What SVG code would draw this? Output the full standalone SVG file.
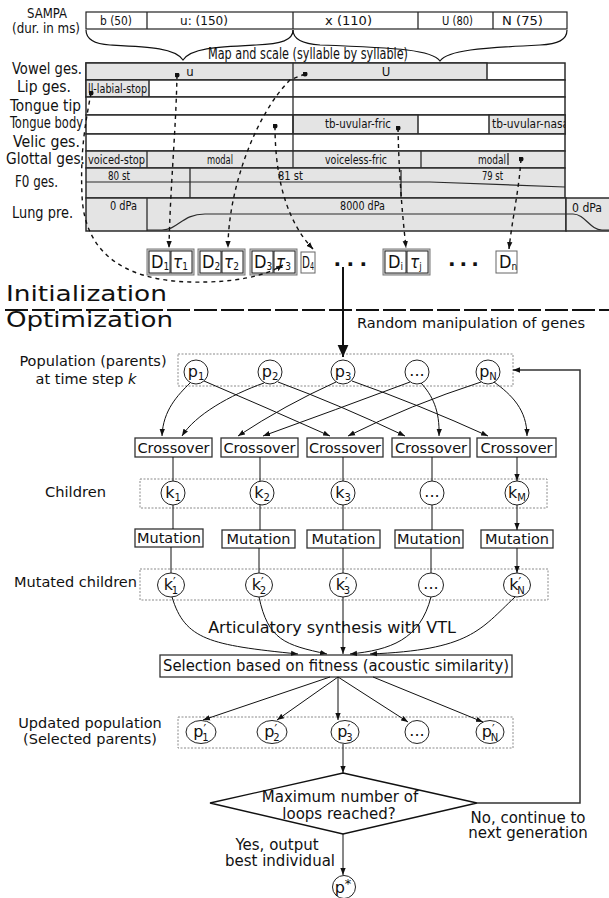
<svg xmlns="http://www.w3.org/2000/svg" width="609" height="898" viewBox="0 0 609 898">
<defs>
<marker id="ah" viewBox="0 0 10 10" refX="10" refY="5" markerWidth="7" markerHeight="7" markerUnits="userSpaceOnUse" orient="auto"><path d="M0,1.2 L10,5 L0,8.8 z" fill="#111"/></marker>
<marker id="big" viewBox="0 0 10 10" refX="10" refY="5" markerWidth="15" markerHeight="12" markerUnits="userSpaceOnUse" orient="auto"><path d="M0,0.5 L10,5 L0,9.5 z" fill="#111"/></marker>
<marker id="dot" viewBox="0 0 6 6" refX="3" refY="3" markerWidth="5" markerHeight="5" markerUnits="userSpaceOnUse"><circle cx="3" cy="3" r="3" fill="#111"/></marker>
<clipPath id="cpn"><rect x="489" y="115" width="76" height="19"/></clipPath>
</defs>
<style>
text{font-family:"DejaVu Sans",Verdana,sans-serif;fill:#111}
.c{font-family:"DejaVu Sans Condensed","DejaVu Sans",sans-serif;font-stretch:condensed}
.s15{font-size:15px}
.s12{font-size:12px}
.s14{font-size:14.5px}
.mid{text-anchor:middle}
.rg{fill:#e4e4e4;stroke:#2b2b2b;stroke-width:1.5}
.rw{fill:#fff;stroke:#2b2b2b;stroke-width:1.5}
.vl{fill:none;stroke:#2b2b2b;stroke-width:1.3}
.grp{fill:none;stroke:#8a8a8a;stroke-width:1;stroke-dasharray:2,1.5}
.box{fill:#fff;stroke:#333;stroke-width:1.3}
.nd{fill:#fff;stroke:#222;stroke-width:1}
.ar{fill:none;stroke:#111;stroke-width:1;marker-end:url(#ah)}
.da{fill:none;stroke:#111;stroke-width:1.4;stroke-dasharray:4,4;marker-start:url(#dot);marker-end:url(#ah)}
.gb{fill:#d4d4d4;stroke:#777;stroke-width:1}
.gi{fill:#fff;stroke:#222;stroke-width:1}
.nl{font-size:16px;text-anchor:middle}
.sb{font-size:10px}
.pr{font-size:12px}
</style>
<rect width="609" height="898" fill="#fff"/>

<!-- SAMPA row -->
<g id="sampa">
<text class="c mid" font-size="14" x="47" y="18" textLength="40" lengthAdjust="spacingAndGlyphs">SAMPA</text>
<text class="c mid" font-size="14" x="46" y="33" textLength="68" lengthAdjust="spacingAndGlyphs">(dur. in ms)</text>
<rect x="86" y="12" width="481" height="17" fill="#fff" stroke="#222" stroke-width="1.2"/>
<path class="vl" d="M147,12V29M293,12V29M418,12V29M493,12V29"/>
<text class="c s12" x="100" y="25" textLength="32" lengthAdjust="spacingAndGlyphs">b (50)</text>
<text class="c s12" x="180" y="25" textLength="48" lengthAdjust="spacingAndGlyphs">u:  (150)</text>
<text class="c s12" x="325" y="25" textLength="47" lengthAdjust="spacingAndGlyphs">x   (110)</text>
<text class="c s12" x="442" y="25" textLength="31" lengthAdjust="spacingAndGlyphs">U (80)</text>
<text class="c s12" x="502" y="25" textLength="41" lengthAdjust="spacingAndGlyphs">N (75)</text>
</g>

<g id="braces">
<path fill="none" stroke="#111" stroke-width="1.2" d="M86,30 C86,40 95,44 110,45 C150,47 175,48 183,60 C191,48 216,47 256,45 C282,44 293,40 293,30"/>
<path fill="none" stroke="#111" stroke-width="1.2" d="M293,30 C293,40 305,44 320,45 C400,48 432,50 440,61 C448,50 480,48 540,45 C558,44 567,40 567,30"/>
<text class="c s15" x="208" y="59" textLength="200" lengthAdjust="spacingAndGlyphs">Map and scale (syllable by syllable)</text>
</g>

<!-- gestural score -->
<g id="row-labels">
<text class="c s15" x="12" y="74" textLength="70" lengthAdjust="spacingAndGlyphs">Vowel ges.</text>
<text class="c s15" x="17" y="92" textLength="54" lengthAdjust="spacingAndGlyphs">Lip ges.</text>
<text class="c s15" x="10" y="111" textLength="71" lengthAdjust="spacingAndGlyphs">Tongue tip</text>
<text class="c s15" x="10" y="128" textLength="73" lengthAdjust="spacingAndGlyphs">Tongue body</text>
<text class="c s15" x="13" y="147" textLength="67" lengthAdjust="spacingAndGlyphs">Velic ges.</text>
<text class="c s15" x="6" y="164" textLength="79" lengthAdjust="spacingAndGlyphs">Glottal ges.</text>
<text class="c s15" x="15" y="187" textLength="43" lengthAdjust="spacingAndGlyphs">F0 ges.</text>
<text class="c s15" x="12" y="218" textLength="61" lengthAdjust="spacingAndGlyphs">Lung pre.</text>
</g>

<g id="vowel-row">
<rect class="rw" x="86" y="63" width="479" height="17"/>
<rect class="rg" x="86" y="63" width="401" height="17"/>
<text class="c mid" font-size="13" x="190" y="76">u</text>
<text class="c mid" font-size="13" x="386" y="76">U</text>
</g>
<g id="lip-row">
<rect class="rw" x="86" y="80" width="479" height="17"/>
<rect class="rg" x="86" y="80" width="63" height="17"/>
<text class="c s12" x="88" y="93" textLength="59" lengthAdjust="spacingAndGlyphs">ll-labial-stop</text>
</g>
<g id="tongue-tip-row">
<rect class="rw" x="86" y="97" width="479" height="18"/>
</g>
<g id="tongue-body-row">
<rect class="rw" x="86" y="115" width="479" height="19"/>
<rect class="rg" x="293" y="115" width="125" height="19"/>
<rect class="rg" x="489" y="115" width="76" height="19"/>
<text class="c s12" x="325" y="128" textLength="66" lengthAdjust="spacingAndGlyphs">tb-uvular-fric</text>
<text class="c s12" x="492" y="128" clip-path="url(#cpn)" textLength="80" lengthAdjust="spacingAndGlyphs">tb-uvular-nasal</text>
</g>
<g id="velic-row">
<rect class="rw" x="86" y="134" width="479" height="17"/>
</g>
<path class="vl" d="M293,63V151"/>
<g id="glottal-row">
<rect class="rg" x="86" y="151" width="479" height="17"/>
<path class="vl" d="M147,151V168M293,151V168M421,151V168M508,153V165"/>
<text class="c s12" x="88" y="164" textLength="57" lengthAdjust="spacingAndGlyphs">voiced-stop</text>
<text class="c s12" x="207" y="164" textLength="26" lengthAdjust="spacingAndGlyphs">modal</text>
<text class="c s12" x="325" y="164" textLength="62" lengthAdjust="spacingAndGlyphs">voiceless-fric</text>
<text class="c s12" x="478" y="164" textLength="28" lengthAdjust="spacingAndGlyphs">modal</text>
</g>
<g id="f0-row">
<rect class="rg" x="86" y="168" width="479" height="30"/>
<path class="vl" d="M190,168V198M401,170V198"/>
<path fill="none" stroke="#2b2b2b" stroke-width="1.2" d="M86,182 L430,182 L565,187"/>
<text class="c s12" x="108" y="180" textLength="22" lengthAdjust="spacingAndGlyphs">80 st</text>
<text class="c s12" x="278" y="180" textLength="25" lengthAdjust="spacingAndGlyphs">81 st</text>
<text class="c s12" x="482" y="180" textLength="21" lengthAdjust="spacingAndGlyphs">79 st</text>
</g>
<g id="lung-row">
<rect class="rg" x="86" y="198" width="480" height="33"/>
<rect class="rg" x="566" y="198" width="50" height="33"/>
<path class="vl" d="M147,198V231"/>
<path fill="none" stroke="#2b2b2b" stroke-width="1.2" d="M147,230 L162,230 C178,230 182,214 205,214 L566,214"/>
<path fill="none" stroke="#2b2b2b" stroke-width="1.2" d="M566,214 L573,214 C585,214 590,230 602,230 L612,230"/>
<text class="c s12" x="110" y="210" textLength="27" lengthAdjust="spacingAndGlyphs">0 dPa</text>
<text class="c s12" x="340" y="210" textLength="45" lengthAdjust="spacingAndGlyphs">8000 dPa</text>
<text class="c s12" x="572" y="212" textLength="30" lengthAdjust="spacingAndGlyphs">0 dPa</text>
</g>

<!-- genes -->
<g id="gene-1">
<rect class="gb" x="147" y="249" width="47" height="26"/>
<rect class="gi" x="149" y="251" width="21" height="22"/><rect class="gi" x="171" y="251" width="21" height="22"/>
<text class="c" font-size="18" x="151" y="268">D<tspan class="sb" dy="2">1</tspan></text>
<text class="c" font-size="17" font-style="italic" x="173" y="268">τ<tspan class="sb" font-style="normal" dy="2">1</tspan></text>
</g>
<g id="gene-2">
<rect class="gb" x="198" y="249" width="47" height="26"/>
<rect class="gi" x="200" y="251" width="21" height="22"/><rect class="gi" x="222" y="251" width="21" height="22"/>
<text class="c" font-size="18" x="202" y="268">D<tspan class="sb" dy="2">2</tspan></text>
<text class="c" font-size="17" font-style="italic" x="224" y="268">τ<tspan class="sb" font-style="normal" dy="2">2</tspan></text>
</g>
<g id="gene-3">
<rect class="gb" x="250" y="249" width="47" height="26"/>
<rect class="gi" x="252" y="251" width="21" height="22"/><rect class="gi" x="274" y="251" width="21" height="22"/>
<text class="c" font-size="18" x="254" y="268">D<tspan class="sb" dy="2">3</tspan></text>
<text class="c" font-size="17" font-style="italic" x="276" y="268">τ<tspan class="sb" font-style="normal" dy="2">3</tspan></text>
</g>
<g id="gene-4">
<rect fill="#fff" stroke="#666" stroke-width="1" x="301" y="252" width="14" height="21"/>
<text class="c" font-size="16" x="302" y="268" textLength="12" lengthAdjust="spacingAndGlyphs">D<tspan class="sb" dy="2">4</tspan></text>
</g>
<g id="dots-1"><text font-size="20" font-weight="bold" x="333.5" y="266" letter-spacing="5.4">...</text></g>
<g id="gene-i">
<rect class="gb" x="383" y="249" width="47" height="26"/>
<rect class="gi" x="385" y="251" width="21" height="22"/><rect class="gi" x="407" y="251" width="21" height="22"/>
<text class="c" font-size="18" x="388" y="268">D<tspan class="sb" dy="2">i</tspan></text>
<text class="c" font-size="17" font-style="italic" x="410" y="268">τ<tspan class="sb" font-style="normal" dy="2">j</tspan></text>
</g>
<g id="dots-2"><text font-size="20" font-weight="bold" x="448" y="266" letter-spacing="4">...</text></g>
<g id="gene-n">
<rect fill="#fff" stroke="#666" stroke-width="1" x="496" y="251" width="21" height="22"/>
<text class="c" font-size="18" x="499" y="268">D<tspan class="sb" dy="2">n</tspan></text>
</g>

<!-- phase titles -->
<g id="phases">
<text font-size="22" x="6" y="301" textLength="161" lengthAdjust="spacingAndGlyphs">Initialization</text>
<path d="M5,310 L609,310" stroke="#111" stroke-width="2" stroke-dasharray="23,4"/>
<text font-size="22" x="6" y="327" textLength="167" lengthAdjust="spacingAndGlyphs">Optimization</text>
<text class="s14" x="357" y="328" textLength="228" lengthAdjust="spacingAndGlyphs">Random manipulation of genes</text>
</g>

<!-- left labels -->
<g id="labels">
<text class="s14 mid" x="93" y="366">Population (parents)</text>
<text class="s14 mid" x="86" y="384">at time step <tspan font-style="italic">k</tspan></text>
<text class="s14" x="45" y="497" textLength="61" lengthAdjust="spacingAndGlyphs">Children</text>
<text class="s14" x="14" y="587" textLength="123" lengthAdjust="spacingAndGlyphs">Mutated children</text>
<text class="s14 mid" x="90" y="728">Updated population</text>
<text class="s14 mid" x="90" y="744">(Selected parents)</text>
<text class="s15 mid" x="277" y="850">Yes, output</text>
<text class="s15 mid" x="280" y="866">best individual</text>
<text class="s15 mid" x="528" y="823">No, continue to</text>
<text class="s15 mid" x="528" y="838">next generation</text>
<text font-size="16" class="mid" x="332" y="633">Articulatory synthesis with VTL</text>
</g>

<!-- population -->
<g id="population">
<rect class="grp" x="178" y="354" width="335" height="32"/>
<g id="p1"><circle class="nd" cx="196" cy="372" r="12"/><text class="nl" x="196" y="377">p<tspan class="sb" dy="3">1</tspan></text></g>
<g id="p2"><circle class="nd" cx="270" cy="372" r="12"/><text class="nl" x="270" y="377">p<tspan class="sb" dy="3">2</tspan></text></g>
<g id="p3"><circle class="nd" cx="343" cy="372" r="12"/><text class="nl" x="343" y="377">p<tspan class="sb" dy="3">3</tspan></text></g>
<g id="p4"><circle class="nd" cx="417" cy="372" r="12"/><text class="nl" x="417" y="376">...</text></g>
<g id="pN"><circle class="nd" cx="488" cy="372" r="12"/><text class="nl" x="488" y="377">p<tspan class="sb" dy="3">N</tspan></text></g>
</g>

<!-- crossover -->
<g id="crossover">
<g id="c1"><rect class="box" x="135" y="438" width="77" height="19"/><text class="s14 mid" x="173.5" y="453">Crossover</text></g>
<g id="c2"><rect class="box" x="221" y="438" width="77" height="19"/><text class="s14 mid" x="259.5" y="453">Crossover</text></g>
<g id="c3"><rect class="box" x="307" y="438" width="76" height="19"/><text class="s14 mid" x="345" y="453">Crossover</text></g>
<g id="c4"><rect class="box" x="392" y="438" width="78" height="19"/><text class="s14 mid" x="431" y="453">Crossover</text></g>
<g id="c5"><rect class="box" x="477" y="438" width="79" height="19"/><text class="s14 mid" x="516.5" y="453">Crossover</text></g>
</g>

<!-- children -->
<g id="children">
<rect class="grp" x="140" y="479" width="407" height="29"/>
<g id="k1"><circle class="nd" cx="173" cy="493" r="12"/><text class="nl" x="173" y="498">k<tspan class="sb" dy="3">1</tspan></text></g>
<g id="k2"><circle class="nd" cx="262" cy="493" r="12"/><text class="nl" x="262" y="498">k<tspan class="sb" dy="3">2</tspan></text></g>
<g id="k3"><circle class="nd" cx="343" cy="493" r="12"/><text class="nl" x="343" y="498">k<tspan class="sb" dy="3">3</tspan></text></g>
<g id="k4"><circle class="nd" cx="432" cy="493" r="12"/><text class="nl" x="432" y="497">...</text></g>
<g id="kM"><circle class="nd" cx="517" cy="493" r="12"/><text class="nl" x="517" y="498">k<tspan class="sb" dy="3">M</tspan></text></g>
</g>

<!-- mutation -->
<g id="mutation">
<g id="m1"><rect class="box" x="135" y="529" width="68" height="18"/><text class="s14 mid" x="169" y="543">Mutation</text></g>
<g id="m2"><rect class="box" x="222" y="530" width="73" height="18"/><text class="s14 mid" x="258.5" y="544">Mutation</text></g>
<g id="m3"><rect class="box" x="307" y="530" width="73" height="18"/><text class="s14 mid" x="343.5" y="544">Mutation</text></g>
<g id="m4"><rect class="box" x="395" y="530" width="68" height="18"/><text class="s14 mid" x="429" y="544">Mutation</text></g>
<g id="m5"><rect class="box" x="481" y="530" width="72" height="18"/><text class="s14 mid" x="517" y="544">Mutation</text></g>
</g>

<!-- mutated children -->
<g id="mutated">
<rect class="grp" x="140" y="569" width="408" height="31"/>
<g id="kp1"><ellipse class="nd" cx="171" cy="585" rx="13.5" ry="12"/><text class="nl" x="171" y="590">k<tspan class="pr" dy="-4">′</tspan><tspan class="sb" dx="-4" dy="8">1</tspan></text></g>
<g id="kp2"><ellipse class="nd" cx="259" cy="585" rx="13.5" ry="12"/><text class="nl" x="259" y="590">k<tspan class="pr" dy="-4">′</tspan><tspan class="sb" dx="-4" dy="8">2</tspan></text></g>
<g id="kp3"><ellipse class="nd" cx="343" cy="585" rx="13.5" ry="12"/><text class="nl" x="343" y="590">k<tspan class="pr" dy="-4">′</tspan><tspan class="sb" dx="-4" dy="8">3</tspan></text></g>
<g id="kp4"><ellipse class="nd" cx="431" cy="585" rx="12.5" ry="12"/><text class="nl" x="431" y="589">...</text></g>
<g id="kpN"><ellipse class="nd" cx="517" cy="585" rx="13.5" ry="12"/><text class="nl" x="517" y="590">k<tspan class="pr" dy="-4">′</tspan><tspan class="sb" dx="-4" dy="8">N</tspan></text></g>
</g>

<!-- selection -->
<g id="selection">
<rect class="box" x="160" y="655" width="352" height="22"/>
<text class="s15 mid" x="336" y="671" textLength="346" lengthAdjust="spacingAndGlyphs">Selection based on fitness (acoustic similarity)</text>
</g>

<!-- updated population -->
<g id="updated">
<rect class="grp" x="178" y="717" width="335" height="31"/>
<g id="pp1"><ellipse class="nd" cx="201" cy="732" rx="15" ry="11.5"/><text class="nl" x="201" y="737">p<tspan class="pr" dy="-4">′</tspan><tspan class="sb" dx="-4" dy="8">1</tspan></text></g>
<g id="pp2"><ellipse class="nd" cx="272" cy="732" rx="15" ry="11.5"/><text class="nl" x="272" y="737">p<tspan class="pr" dy="-4">′</tspan><tspan class="sb" dx="-4" dy="8">2</tspan></text></g>
<g id="pp3"><ellipse class="nd" cx="345" cy="732" rx="14" ry="11.5"/><text class="nl" x="345" y="737">p<tspan class="pr" dy="-4">′</tspan><tspan class="sb" dx="-4" dy="8">3</tspan></text></g>
<g id="pp4"><ellipse class="nd" cx="417" cy="732" rx="12" ry="11.5"/><text class="nl" x="417" y="736">...</text></g>
<g id="ppN"><ellipse class="nd" cx="490" cy="732" rx="14" ry="11.5"/><text class="nl" x="490" y="737">p<tspan class="pr" dy="-4">′</tspan><tspan class="sb" dx="-4" dy="8">N</tspan></text></g>
</g>

<!-- decision -->
<g id="decision">
<polygon points="343,773 477,803 343,834 210,803" fill="#fff" stroke="#111" stroke-width="1.3"/>
<text class="s15 mid" x="340" y="802">Maximum number of</text>
<text class="s15 mid" x="339" y="819">loops reached?</text>
</g>

<g id="pstar"><circle class="nd" cx="344" cy="887" r="11.5"/><text class="nl" x="343" y="893">p<tspan font-size="13" dy="-5">*</tspan></text></g>

<!-- connectors -->
<g id="connectors">
<path class="da" d="M177,75 C176,130 170,190 169,248"/>
<path class="da" d="M305,74 L290,80 C255,115 228,190 228,248"/>
<path class="da" d="M275,126 C275,185 290,225 313,249"/>
<path class="da" d="M91,93 C86,120 80,150 82,195 C84,250 120,280 190,282 C235,283 265,276 283,265"/>
<path class="da" d="M398,128 C399,180 403,220 406,248"/>
<path class="da" d="M521,159 C519,190 512,220 509,249"/>
<path d="M343,267 L343,357" fill="none" stroke="#111" stroke-width="2" marker-end="url(#big)"/>

<path class="ar" d="M190,383 C178,395 163,410 162,436"/>
<path class="ar" d="M204,381 Q265,407 330,436"/>
<path class="ar" d="M264,383 C230,395 195,415 182,436"/>
<path class="ar" d="M278,382 Q340,405 405,436"/>
<path class="ar" d="M336,382 Q285,405 238,436"/>
<path class="ar" d="M352,381 Q420,405 488,436"/>
<path class="ar" d="M410,382 Q335,410 263,436"/>
<path class="ar" d="M421,383 C432,395 440,410 439,436"/>
<path class="ar" d="M481,382 Q410,405 348,436"/>
<path class="ar" d="M494,382 C512,395 527,410 527,436"/>

<path class="ar" d="M173,457V481M260,457V481M343,457V481M432,457V481M517,457V481"/>
<path class="ar" d="M173,505V529M260,505V530M343,505V530M432,505V530M517,505V530"/>
<path class="ar" d="M171,547V573M259,548V573M343,548V573M431,548V573M517,548V573"/>

<path class="ar" d="M172,597 C185,640 210,645 298,654"/>
<path class="ar" d="M259,597 C268,640 285,645 327,654"/>
<path class="ar" d="M343,597 L343,654"/>
<path class="ar" d="M431,597 C420,640 390,650 350,654"/>
<path class="ar" d="M515,597 C480,630 470,650 370,654"/>

<path class="ar" d="M330,677 L203,720"/>
<path class="ar" d="M338,677 L277,720"/>
<path class="ar" d="M338,677 L338,720"/>
<path class="ar" d="M338,677 L408,722"/>
<path class="ar" d="M373,677 L483,722"/>

<path class="ar" d="M343,744 L343,773"/>
<path class="ar" d="M343,834 L343,875"/>
<path d="M477,803 L580,803 L580,370 L513,370" fill="none" stroke="#333" stroke-width="1.5" marker-end="url(#ah)"/>
</g>
</svg>
